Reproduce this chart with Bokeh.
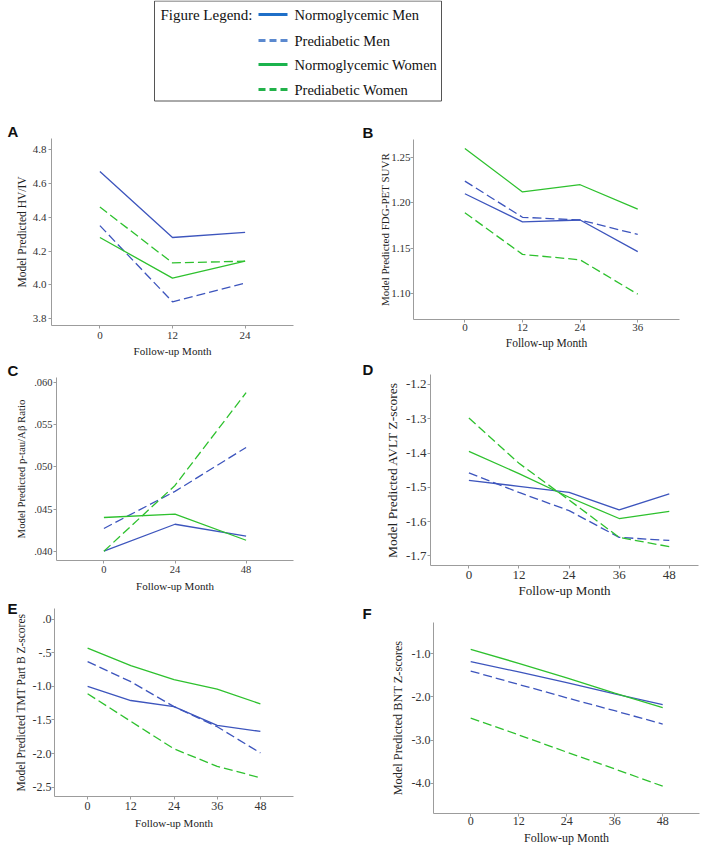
from bokeh.plotting import figure
from bokeh.layouts import column, row
from bokeh.models import Range1d, FixedTicker
from bokeh.core.properties import value
from bokeh.embed import file_html
from bokeh.resources import INLINE

# ---------------- data ----------------
series_names = ["Normoglycemic Men", "Prediabetic Men", "Normoglycemic Women", "Prediabetic Women"]

months_A = [0, 12, 24]
A_nm = [4.67, 4.28, 4.31]
A_pm = [4.35, 3.90, 4.01]
A_nw = [4.28, 4.04, 4.14]
A_pw = [4.46, 4.13, 4.14]
A_yticks = [3.8, 4.0, 4.2, 4.4, 4.6, 4.8]

months_B = [0, 12, 24, 36]
B_nm = [1.210, 1.179, 1.181, 1.146]
B_pm = [1.224, 1.184, 1.181, 1.165]
B_nw = [1.260, 1.212, 1.220, 1.193]
B_pw = [1.189, 1.143, 1.137, 1.099]
B_yticks = [1.10, 1.15, 1.20, 1.25]

months_C = [0, 24, 48]
C_nm = [0.0400, 0.0432, 0.0418]
C_pm = [0.0427, 0.0471, 0.0523]
C_nw = [0.0440, 0.0444, 0.0413]
C_pw = [0.0400, 0.0478, 0.0588]
C_yticks = [0.040, 0.045, 0.050, 0.055, 0.060]

months_D = [0, 12, 24, 36, 48]
D_nm = [-1.480, -1.497, -1.515, -1.566, -1.519]
D_pm = [-1.458, -1.515, -1.568, -1.646, -1.655]
D_nw = [-1.395, -1.460, -1.529, -1.591, -1.570]
D_pw = [-1.298, -1.430, -1.537, -1.646, -1.673]
D_yticks = [-1.7, -1.6, -1.5, -1.4, -1.3, -1.2]

months_E = [0, 12, 24, 36, 48]
E_nm = [-1.00, -1.21, -1.30, -1.58, -1.67]
E_pm = [-0.63, -0.93, -1.30, -1.60, -1.99]
E_nw = [-0.43, -0.69, -0.90, -1.04, -1.26]
E_pw = [-1.11, -1.52, -1.93, -2.19, -2.36]
E_yticks = [-2.5, -2.0, -1.5, -1.0, -0.5, 0.0]

months_F = [0, 12, 24, 36, 48]
F_nm = [-1.18, -1.42, -1.67, -1.93, -2.18]
F_pm = [-1.40, -1.71, -2.02, -2.32, -2.63]
F_nw = [-0.90, -1.22, -1.56, -1.91, -2.25]
F_pw = [-2.49, -2.88, -3.28, -3.67, -4.07]
F_yticks = [-4.0, -3.0, -2.0, -1.0]

# ---------------- style ----------------
BLUE = "#3d55bd"
GREEN = "#2ec12e"
SERIF = "Liberation Serif"
AX = "#9c9c9c"
DASH = "9 4"
styles = [(BLUE, "solid"), (BLUE, DASH), (GREEN, "solid"), (GREEN, DASH)]


def fmt(v, d):
    s = f"{v:.{d}f}"
    if s.startswith("0."):
        s = s[1:]
    elif s.startswith("-0."):
        s = "-" + s[2:]
    return s


def make_panel(letter, fig_left, fig_w, row_top, row_h, frame, xr, yr, months, ys,
               yticks, ydec, ylabel, letter_x, title_so, fonts, y_so, y_lab_so, x_so, x_lab_so):
    fl, fr, ft, fb = frame
    tick_fs, ylab_fs, xlab_fs = fonts
    p = figure(width=fig_w, height=row_h, x_range=Range1d(*xr), y_range=Range1d(*yr),
               output_backend="svg", toolbar_location=None,
               min_border_left=int(round(fl - fig_left)),
               min_border_right=int(round(fig_left + fig_w - fr)),
               min_border_top=int(round(ft - row_top)),
               min_border_bottom=int(round(row_top + row_h - fb)))
    p.outline_line_color = None
    p.xgrid.visible = False
    p.ygrid.visible = False
    p.background_fill_color = "white"
    p.border_fill_color = "white"
    for vals, (col, dash) in zip(ys, styles):
        p.line(months, vals, line_color=col, line_width=1.3, line_dash=dash)
    p.xaxis.ticker = FixedTicker(ticks=list(months))
    p.xaxis.major_label_overrides = {m: str(m) for m in months}
    p.yaxis.ticker = FixedTicker(ticks=yticks)
    p.yaxis.major_label_overrides = {t: fmt(t, ydec) for t in yticks}
    for ax in (p.xaxis[0], p.yaxis[0]):
        ax.axis_line_color = AX
        ax.major_tick_line_color = AX
        ax.minor_tick_line_color = None
        ax.major_tick_in = 0
        ax.major_tick_out = 3
        ax.major_label_text_font = SERIF
        ax.major_label_text_font_size = f"{tick_fs}px"
        ax.major_label_text_color = "#333333"
        ax.axis_label_text_font = SERIF
        ax.axis_label_text_font_style = "normal"
        ax.axis_label_text_color = "#222222"
    p.xaxis.axis_label = "Follow-up Month"
    p.xaxis.axis_label_text_font_size = f"{xlab_fs}px"
    p.yaxis.axis_label = ylabel
    p.yaxis.axis_label_text_font_size = f"{ylab_fs}px"
    p.yaxis.major_label_standoff = y_so
    p.yaxis.axis_label_standoff = y_lab_so
    p.xaxis.major_label_standoff = x_so
    p.xaxis.axis_label_standoff = x_lab_so
    p.title.text = letter
    p.title.text_font = "Liberation Sans"
    p.title.text_font_size = "15px"
    p.title.text_font_style = "bold"
    p.title.text_color = "#111111"
    p.title.align = "left"
    p.title.offset = letter_x - fl
    p.title.standoff = title_so
    return p


# page layout in page pixels
LX, RX, W = 0, 354, 354
R1, R2, R3, END = 120, 360, 600, 847

pA = make_panel("A", LX, W, R1, R2 - R1, (51, 293, 138, 325), (-8, 32), (3.76, 4.865),
                months_A, [A_nm, A_pm, A_nw, A_pw], A_yticks, 1,
                "Model Predicted HV/IV", 7, -3, (11, 11.5, 11), 2, 2, 3, 3)
pB = make_panel("B", RX, W, R1, R2 - R1, (413, 679, 139, 319), (-10.7, 44.7), (1.071, 1.27),
                months_B, [B_nm, B_pm, B_nw, B_pw], B_yticks, 2,
                "Model Predicted FDG-PET SUVR", 362, -3, (11, 11, 11.5), 0, -3, 1, 3)
pC = make_panel("C", LX, W, R2, R3 - R2, (56, 293, 377, 560), (-16, 64), (0.0389, 0.0606),
                months_C, [C_nm, C_pm, C_nw, C_pw], C_yticks, 3,
                "Model Predicted p-tau/A\u03b2 Ratio", 7, -3, (10.5, 10.8, 11), 1, 4, 2, 4)
pD = make_panel("D", RX, W, R2, R3 - R2, (430, 698, 374, 565), (-9.2, 55), (-1.728, -1.171),
                months_D, [D_nm, D_pm, D_nw, D_pw], D_yticks, 1,
                "Model Predicted AVLT Z-scores", 362, -6, (13, 13.5, 13), 1, 3, 2, 1)
pE = make_panel("E", LX, W, R3, END - R3, (54, 293, 608, 796), (-9.2, 57.2), (-2.639, 0.16),
                months_E, [E_nm, E_pm, E_nw, E_pw], E_yticks, 1,
                "Model Predicted TMT Part B Z-scores", 7, -16, (12, 11.5, 11), 0, 3, 2, 4)
pF = make_panel("F", RX, W, R3, END - R3, (433, 699, 622, 813), (-9.3, 57.2), (-4.703, -0.274),
                months_F, [F_nm, F_pm, F_nw, F_pw], F_yticks, 1,
                "Model Predicted BNT Z-scores", 362, 2, (12, 12.3, 12), 0, 4, 0, 3)

# ---------------- legend ----------------
leg = figure(width=708, height=R1, x_range=Range1d(0, 708), y_range=Range1d(R1, 0),
             output_backend="svg", toolbar_location=None,
             min_border_left=0, min_border_right=0, min_border_top=0, min_border_bottom=0)
leg.axis.visible = False
leg.xgrid.visible = False
leg.ygrid.visible = False
leg.outline_line_color = None
leg.quad(left=[154], right=[441], top=[0.5], bottom=[100.5], fill_color=None,
         line_color="#555555", line_width=1)
leg_rows = [14, 40, 64, 89]
leg_colors = ["#1f6fc8", "#5b89cf", "#1bb34d", "#22b24a"]
leg_dash = ["solid", "7 4", "solid", "7 4"]
for yy, c, d in zip(leg_rows, leg_colors, leg_dash):
    leg.line([258, 287], [yy, yy], line_color=c, line_width=3, line_dash=d)
leg.text(x=[294] * 4, y=leg_rows, text=series_names, text_font=value(SERIF),
         text_font_size="14.5px", text_baseline="middle", text_align="left", text_color="#111111")
leg.text(x=[252], y=[leg_rows[0]], text=["Figure Legend:"], text_font=value(SERIF),
         text_font_size="15px", text_baseline="middle", text_align="right", text_color="#111111")

layout = column(leg,
                row(column(pA), column(pB), spacing=0),
                row(column(pC), column(pD), spacing=0),
                row(column(pE), column(pF), spacing=0),
                spacing=0)

open("out.html", "w").write(file_html(layout, INLINE))
